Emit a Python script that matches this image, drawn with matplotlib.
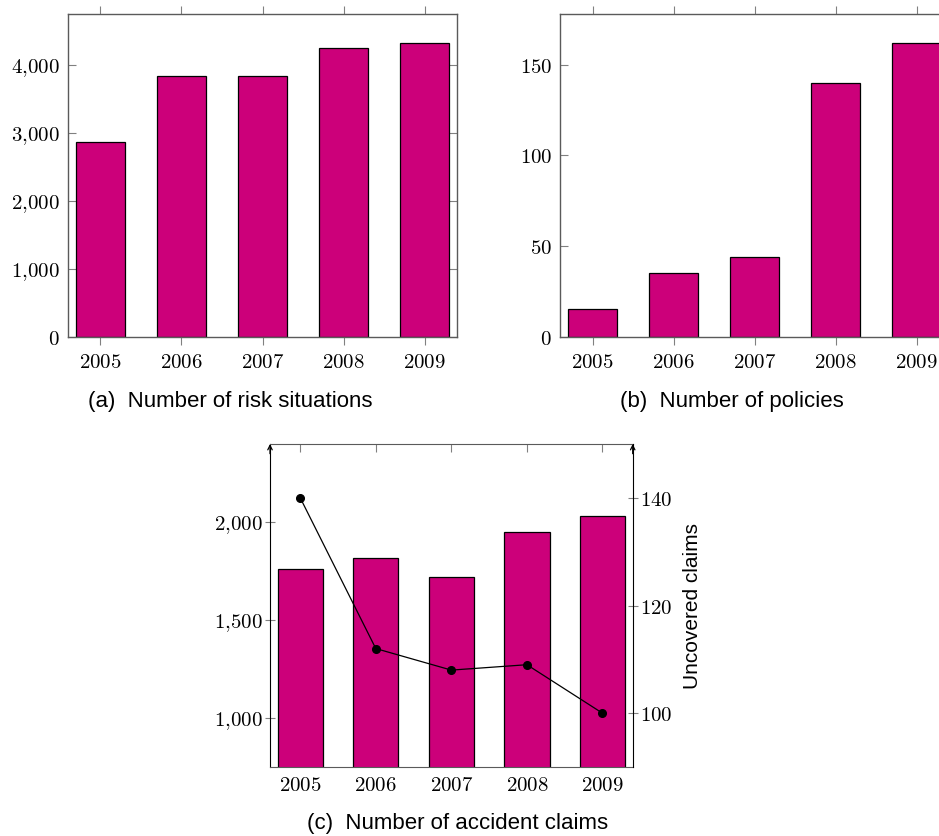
import matplotlib
matplotlib.use("Agg")
import matplotlib.pyplot as plt
from matplotlib.ticker import FuncFormatter

# datos
years = [2005, 2006, 2007, 2008, 2009]
risk_situations = [2872, 3833, 3833, 4254, 4324]
policies = [15, 35, 44, 140, 162]
accident_claims = [1759, 1820, 1723, 1953, 2031]
uncovered_claims = [140, 112, 108, 109, 100]

captions = ["(a)  Number of risk situations", "(b)  Number of policies",
            "(c)  Number of accident claims"]

plt.rcParams['mathtext.fontset'] = 'cm'

W, H = 939, 836
bar_color = '#cc007a'
spine_gray = '#5a5a5a'
tick_gray = '#808080'


def box(left, right, top, bottom):
    """rectangulo en pixeles -> fraccion de la figura"""
    return [left / W, (H - bottom) / H, (right - left) / W, (bottom - top) / H]


def miles(v, pos):
    s = '{:,.0f}'.format(v).replace(',', '{,}')
    return '$' + s + '$'


def year_labels(ax):
    ax.set_xticks(years)
    ax.set_xticklabels(['$%d$' % y for y in years])
    ax.set_xlim(2004.6, 2009.4)


def panel(ax, values, ymax, yticks):
    ax.bar(years, values, width=0.6, color=bar_color, edgecolor='black',
           linewidth=0.9, zorder=2)
    year_labels(ax)
    ax.set_ylim(0, ymax)
    ax.set_yticks(yticks)
    ax.yaxis.set_major_formatter(FuncFormatter(miles))
    for s in ax.spines.values():
        s.set_color(spine_gray)
        s.set_linewidth(1.0)
    ax.tick_params(axis='x', direction='out', top=True, bottom=True,
                   length=6, width=0.8, color=tick_gray, labelsize=15, pad=5)
    ax.tick_params(axis='y', direction='in', left=True, right=True,
                   length=6, width=0.8, color=tick_gray, labelsize=15, pad=6)


fig = plt.figure(figsize=(W / 100, H / 100), dpi=100)

# (a) situaciones de riesgo
ax_a = fig.add_axes(box(68, 457, 14, 337))
panel(ax_a, risk_situations, 4750, [0, 1000, 2000, 3000, 4000])

# (b) polizas (cortado a la derecha como en el original)
ax_b = fig.add_axes(box(560.3, 949, 13.7, 336.7))
panel(ax_b, policies, 178, [0, 50, 100, 150])

# (c) reclamos, con eje doble
ax_c = fig.add_axes(box(270, 632.7, 444, 767))
ax_c.bar(years, accident_claims, width=0.6, color=bar_color,
         edgecolor='black', linewidth=0.9, zorder=2)
year_labels(ax_c)
ax_c.set_ylim(750, 2400)
ax_c.set_yticks([1000, 1500, 2000])
ax_c.yaxis.set_major_formatter(FuncFormatter(miles))
ax_c.spines['top'].set_color(spine_gray)
ax_c.spines['bottom'].set_color(spine_gray)
ax_c.spines['left'].set_color('black')
ax_c.spines['right'].set_visible(False)
ax_c.tick_params(axis='x', direction='in', top=True, bottom=True,
                 length=6, width=0.8, color=tick_gray, labelsize=15, pad=6)
ax_c.tick_params(axis='y', direction='inout', left=True, right=False,
                 length=7, width=0.8, color=tick_gray, labelsize=15, pad=2)

ax_r = ax_c.twinx()
ax_r.plot(years, uncovered_claims, color='black', linewidth=0.9,
          marker='o', markersize=5.5, zorder=3)
ax_r.set_ylim(90, 150)
ax_r.set_yticks([100, 120, 140])
ax_r.yaxis.set_major_formatter(FuncFormatter(miles))
for s in ['top', 'bottom', 'left']:
    ax_r.spines[s].set_visible(False)
ax_r.spines['right'].set_color('black')
ax_r.tick_params(axis='y', direction='inout', length=7, width=0.8,
                 color=tick_gray, labelsize=15, pad=2)

# flechas arriba de los ejes verticales
for xpos in (0, 1):
    ax_c.annotate('', xy=(xpos, 1.0), xytext=(xpos, 0.97),
                  xycoords='axes fraction',
                  arrowprops=dict(arrowstyle='->', color='black', lw=0.9,
                                  shrinkA=0, shrinkB=0, mutation_scale=8))

fig.text(693 / W, 1 - 606 / H, 'Uncovered claims', rotation=90,
         ha='center', va='center', fontsize=15, family='Liberation Sans')

caption_pos = [(230, 402), (732, 402), (457.5, 823)]
for txt, (cx, cy) in zip(captions, caption_pos):
    fig.text(cx / W, 1 - cy / H, txt, ha='center', va='center',
             fontsize=16, family='Liberation Sans')

fig.savefig('out.png', dpi=100)
